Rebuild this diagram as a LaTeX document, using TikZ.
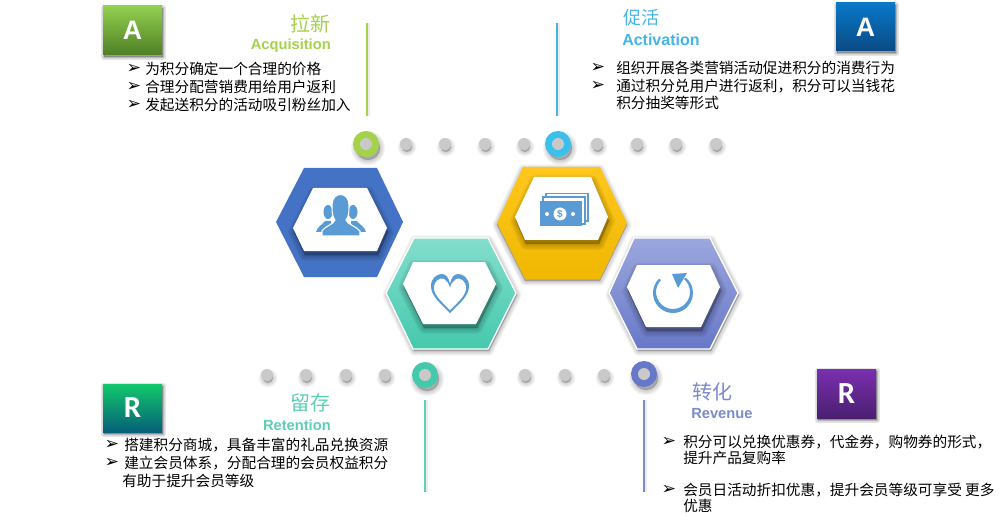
\documentclass[tikz,border=0pt]{standalone}
\usepackage{fontspec}
\usetikzlibrary{calc}
\setmainfont{Noto Sans CJK SC}
\newfontfamily\latfont{Liberation Sans}
\newfontfamily\bulfont{DejaVu Sans}
\newfontfamily\carfont{Carlito}
\definecolor{cgreen}{HTML}{A4D24A}
\definecolor{cblue}{HTML}{45B5E8}
\definecolor{cteal}{HTML}{5CCFB5}
\definecolor{cpurple}{HTML}{7B8BCB}
\definecolor{iconblue}{HTML}{5B9BD5}
\definecolor{dotgray}{HTML}{C9C9C9}
\definecolor{hexblue}{HTML}{4472C4}
\definecolor{yeltop}{HTML}{FFC71E}
\definecolor{yelbot}{HTML}{F0B800}
\definecolor{tealtop}{HTML}{82DECC}
\definecolor{tealbot}{HTML}{45C9AD}
\definecolor{purtop}{HTML}{9CA7DE}
\definecolor{purbot}{HTML}{6878C8}
\tikzset{
  x=0.75pt,y=-0.75pt,
  bodytext/.style={anchor=west,inner sep=0pt,text=black,font=\fontsize{11}{13}\selectfont},
  bullettext/.style={anchor=center,inner sep=0pt,text=black,font=\bulfont\fontsize{13}{13}\selectfont},
  cntitle/.style={inner sep=0pt,font=\fontsize{15}{17}\selectfont},
  entitle/.style={inner sep=0pt,font=\latfont\bfseries\fontsize{11}{12}\selectfont},
  letterA/.style={inner sep=0pt,text=white,font=\latfont\bfseries\fontsize{20}{22}\selectfont},
  letterR/.style={inner sep=0pt,text=white,font=\carfont\bfseries\fontsize{23}{25}\selectfont},
  vline/.style={line width=1.6pt},
  vshadow/.style={line width=2.2pt,black,opacity=.07},
  graydot/.style={circle,fill=dotgray,inner sep=0pt,minimum size=9pt},
  bigdot/.style={circle,inner sep=0pt,minimum size=19.5pt},
  whitehex/.style={fill=white,draw=none},
  hexborder/.style={draw=white,line width=1pt,line join=round},
}
\newcommand{\softshade}[5][.055]{%
  \begin{scope}[shift={(#2,#3)}]
    \foreach \w in {1,.8,.6,.4,.2,.05}{%
      \fill[black,fill opacity=#1,draw=black,draw opacity=#1,line width=\w*#4 pt,line join=round] #5;
    }
  \end{scope}}
\newcommand{\graydotat}[3]{%
  \softshade[.035]{1}{3}{7}{(#2,#3) circle[radius=5]}
  \node[graydot] (#1) at (#2,#3) {};}
\newcommand{\bigdotat}[4]{%
  \softshade[.04]{2}{4}{8}{(#2,#3) circle[radius=12]}
  \node[bigdot,fill=#4] (#1) at (#2,#3) {};
  \node[graydot] (#1c) at (#2,#3) {};}
\newcommand{\lettbox}[7]{%
  \softshade[.05]{1}{2}{5}{(#2,#3) rectangle (#4,#5)}
  \shade[top color=#6,bottom color=#7] (#2,#3) rectangle (#4,#5);
  \coordinate (#1) at ($(#2,#3)!.5!(#4,#5)$);}
\definecolor{agrtop}{HTML}{92D050}
\definecolor{agrbot}{HTML}{4F7F24}
\definecolor{ablutop}{HTML}{0A78C8}
\definecolor{ablubot}{HTML}{0A4A84}
\definecolor{rgrtop}{HTML}{12C96B}
\definecolor{rgrbot}{HTML}{055F78}
\definecolor{rputop}{HTML}{7A2FB0}
\definecolor{rpubot}{HTML}{4A1F70}
\begin{document}
\begin{tikzpicture}
\useasboundingbox (0,0) rectangle (1007,524);
\fill[white] (0,0) rectangle (1007,524);

% vertical rules
\coordinate (g1) at (367,23); \coordinate (g2) at (367,116);
\coordinate (b1) at (557,23); \coordinate (b2) at (557,116);
\coordinate (t1) at (425,400); \coordinate (t2) at (425,492);
\coordinate (p1) at (644,400); \coordinate (p2) at (644,492);
\draw[vshadow] ([xshift=1.5pt]g1) -- ([xshift=1.5pt]g2);
\draw[vshadow] ([xshift=1.5pt]b1) -- ([xshift=1.5pt]b2);
\draw[vshadow] ([xshift=1.5pt]t1) -- ([xshift=1.5pt]t2);
\draw[vshadow] ([xshift=1.5pt]p1) -- ([xshift=1.5pt]p2);
\draw[vline,cgreen] (g1) -- (g2);
\draw[vline,cblue] (b1) -- (b2);
\draw[vline,cteal] (t1) -- (t2);
\draw[vline,cpurple] (p1) -- (p2);

% dots, top row
\bigdotat{dg}{366}{144}{cgreen}
\graydotat{d1}{406}{144}\graydotat{d2}{445}{144}\graydotat{d3}{485}{144}\graydotat{d4}{524}{144}
\bigdotat{db}{558}{144}{cblue!85!cyan}
\graydotat{d5}{597}{144}\graydotat{d6}{637}{144}\graydotat{d7}{676}{144}\graydotat{d8}{716}{144}
% dots, bottom row
\graydotat{e1}{267}{375}\graydotat{e2}{306}{375}\graydotat{e3}{346}{375}\graydotat{e4}{385}{375}
\bigdotat{dt}{425}{375}{tealbot}
\graydotat{e5}{486}{375}\graydotat{e6}{525}{375}\graydotat{e7}{565}{375}\graydotat{e8}{604}{375}
\bigdotat{dp}{644}{374}{purbot}

% blue hexagon
\fill[hexblue] (304,168)--(377,168)--(403,222)--(377,277)--(304,277)--(276,222)--cycle;
\softshade[.045]{1}{4}{9}{(313,188)--(367,188)--(387,228)--(377,251)--(304,251)--(293,228)--cycle}
\fill[whitehex] (313,188)--(367,188)--(387,228)--(377,251)--(304,251)--(293,228)--cycle;

% yellow hexagon
\softshade[.04]{0}{2}{7}{(523,167)--(600,167)--(627,223)--(600,279)--(525,279)--(497,223)--cycle}
\shade[top color=yeltop,bottom color=yelbot] (523,167)--(600,167)--(627,223)--(600,279)--(525,279)--(497,223)--cycle;
\softshade[.045]{1}{4}{9}{(534,177)--(591,177)--(608,217)--(598,240)--(525,240)--(515,217)--cycle}
\fill[whitehex] (534,177)--(591,177)--(608,217)--(598,240)--(525,240)--(515,217)--cycle;

% teal hexagon
\softshade[.04]{1}{2}{7}{(414,238)--(488,238)--(516,293)--(488,349)--(413,349)--(386,293)--cycle}
\shade[hexborder,top color=tealtop,bottom color=tealbot] (414,238)--(488,238)--(516,293)--(488,349)--(413,349)--(386,293)--cycle;
\softshade[.045]{1}{4}{9}{(413,262)--(485,262)--(496,284)--(476,324)--(423,324)--(403,284)--cycle}
\fill[whitehex] (413,262)--(485,262)--(496,284)--(476,324)--(423,324)--(403,284)--cycle;

% purple hexagon
\softshade[.04]{1}{2}{7}{(634,238)--(710,238)--(738,293)--(710,349)--(637,349)--(609,293)--cycle}
\shade[hexborder,top color=purtop,bottom color=purbot] (634,238)--(710,238)--(738,293)--(710,349)--(637,349)--(609,293)--cycle;
\softshade[.045]{1}{4}{9}{(637,265)--(710,265)--(720,287)--(701,327)--(646,327)--(627,287)--cycle}
\fill[whitehex] (637,265)--(710,265)--(720,287)--(701,327)--(646,327)--(627,287)--cycle;

% people icon
\fill[iconblue] (328,212) ellipse[x radius=4.5,y radius=7];
\fill[iconblue] (353,212) ellipse[x radius=4.5,y radius=7];
\fill[iconblue] (316,232) .. controls (317,227) and (322,225) .. (325,221) -- (331,221) -- (331,232) -- cycle;
\fill[iconblue] (366,232) .. controls (365,227) and (360,225) .. (357,221) -- (351,221) -- (351,232) -- cycle;
\path[fill=iconblue,draw=white,line width=.8pt] (322,236) -- (322,231) .. controls (325,226) and (333,225) .. (335,220) .. controls (332,216) and (332,212) .. (332,205) .. controls (332,191) and (349,191) .. (349,205) .. controls (349,212) and (349,216) .. (346,220) .. controls (348,225) and (356,226) .. (360,231) -- (360,236) -- cycle;

% heart icon
\fill[iconblue] (450,313) .. controls (440,303) and (431,296) .. (431,286) .. controls (431,278) and (437,274) .. (442,274) .. controls (446,274) and (449,278) .. (450,284) .. controls (451,278) and (454,274) .. (458,274) .. controls (463,274) and (469,278) .. (469,286) .. controls (469,296) and (460,303) .. (450,313) -- cycle;
\fill[white] (450,310) .. controls (441,301) and (434,295) .. (434,288) .. controls (434,281) and (440,277) .. (444,279) .. controls (447,281) and (449,284) .. (450,288) .. controls (451,284) and (453,281) .. (456,279) .. controls (460,277) and (466,281) .. (466,288) .. controls (466,295) and (459,301) .. (450,310) -- cycle;

% money icon
\draw[iconblue,line width=1pt,fill=white] (546,193.5) rectangle (588,221);
\draw[iconblue,line width=1pt,fill=white] (543,197) rectangle (585,224);
\fill[iconblue] (540,201) rectangle (582,226.5);
\fill[white] (560,214) circle[radius=6.5];
\fill[white] (547,214) circle[radius=2];
\fill[white] (573,214) circle[radius=2];
\node[inner sep=0pt,text=iconblue,font=\latfont\bfseries\fontsize{7.5}{8}\selectfont] (dollar) at (560,214) {\$};

% return arrow icon
\fill[iconblue] ([shift={(673,293)}]225:20) arc[start angle=225,end angle=-50,radius=20] -- ([shift={(673,292)}]-50:17) arc[start angle=-50,end angle=225,radius=17] -- cycle;
\fill[iconblue] (672,274) -- (687,273) -- (678,288) -- cycle;

% letter boxes
\lettbox{ba}{103}{6}{162}{55}{agrtop}{agrbot}
\lettbox{bb}{836}{3}{895}{51}{ablutop}{ablubot}
\lettbox{bc}{103}{384}{162}{432}{rgrtop}{rgrbot}
\lettbox{bd}{817}{369}{876}{418}{rputop}{rpubot}
\node[letterA] (la) at (ba) {A};
\node[letterA] (lb) at (bb) {A};
\node[letterR] (lc) at (bc) {R};
\node[letterR] (ld) at (bd) {R};

% titles
\node[cntitle,anchor=east,text=cgreen] (t1a) at (331,24) {拉新};
\node[entitle,anchor=east,text=cgreen] (t1b) at (331,46) {Acquisition};
\node[cntitle,anchor=west,text=cblue,font=\fontsize{13.5}{16}\selectfont] (t2a) at (623,18) {促活};
\node[entitle,anchor=west,text=cblue,font=\latfont\bfseries\fontsize{12}{13}\selectfont] (t2b) at (622,39.5) {Activation};
\node[cntitle,anchor=east,text=cteal] (t3a) at (331,403) {留存};
\node[entitle,anchor=east,text=cteal] (t3b) at (331,425) {Retention};
\node[cntitle,anchor=west,text=cpurple] (t4a) at (692,392) {转化};
\node[entitle,anchor=west,text=cpurple] (t4b) at (691,414) {Revenue};

% Acquisition text
\node[bullettext] (a1b) at (134,69) {➢};
\node[bodytext] (a1) at (145,69) {为积分确定一个合理的价格};
\node[bullettext] (a2b) at (134,87) {➢};
\node[bodytext] (a2) at (145,87) {合理分配营销费用给用户返利};
\node[bullettext] (a3b) at (134,105) {➢};
\node[bodytext] (a3) at (145,105) {发起送积分的活动吸引粉丝加入};

% Activation text
\node[bullettext] (c1b) at (598,68) {➢};
\node[bodytext] (c1) at (616,68) {组织开展各类营销活动促进积分的消费行为};
\node[bullettext] (c2b) at (598,86) {➢};
\node[bodytext] (c2) at (616,86) {通过积分兑用户进行返利，积分可以当钱花};
\node[bodytext] (c3) at (616,103) {积分抽奖等形式};

% Retention text
\node[bullettext] (r1b) at (112,445) {➢};
\node[bodytext] (r1) at (124,445) {搭建积分商城，具备丰富的礼品兑换资源};
\node[bullettext] (r2b) at (112,463) {➢};
\node[bodytext] (r2) at (124,463) {建立会员体系，分配合理的会员权益积分};
\node[bodytext] (r3) at (122,481) {有助于提升会员等级};

% Revenue text
\node[bullettext] (v1b) at (669,442) {➢};
\node[bodytext] (v1) at (683,442) {积分可以兑换优惠券，代金券，购物券的形式，};
\node[bodytext] (v2) at (683,458) {提升产品复购率};
\node[bullettext] (v3b) at (669,490) {➢};
\node[bodytext] (v3) at (683,490) {会员日活动折扣优惠，提升会员等级可享受 更多};
\node[bodytext] (v4) at (683,506) {优惠};
\end{tikzpicture}
\end{document}
